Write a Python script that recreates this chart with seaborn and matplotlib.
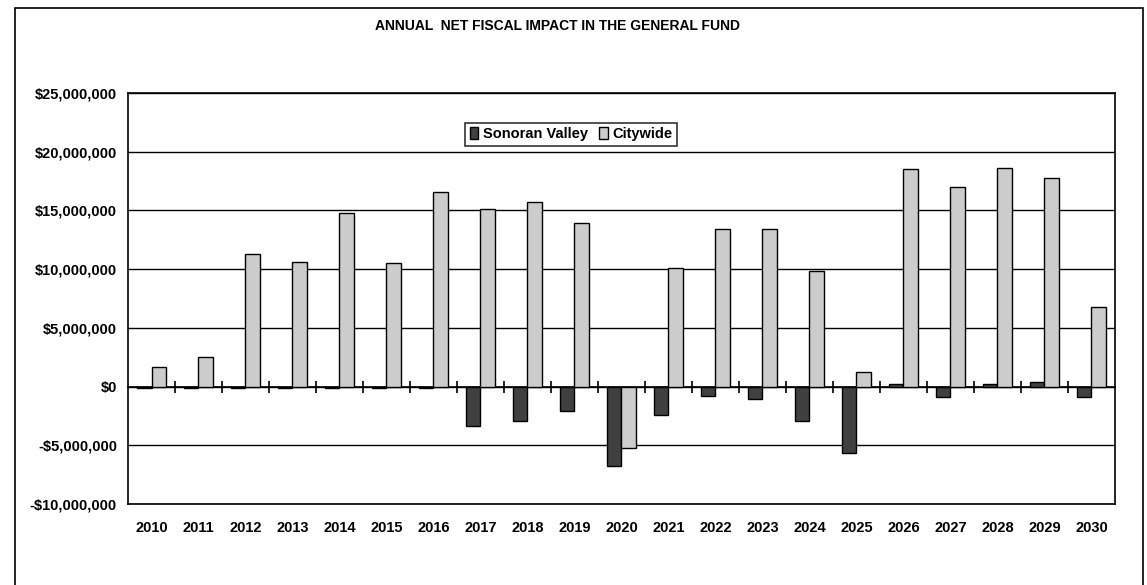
import matplotlib
matplotlib.use("Agg")
import matplotlib.pyplot as plt
import matplotlib.ticker as mticker
from matplotlib.patches import Rectangle
import seaborn as sns
import pandas as pd

years = [str(y) for y in range(2010, 2031)]
sonoran_valley = [-0.15e6, -0.15e6, -0.15e6, -0.15e6, -0.15e6, -0.15e6, -0.15e6,
                  -3.4e6, -2.9e6, -2.1e6, -6.8e6, -2.4e6, -0.8e6, -1.05e6, -2.9e6,
                  -5.7e6, 0.2e6, -0.9e6, 0.2e6, 0.35e6, -0.9e6]
citywide = [1.7e6, 2.5e6, 11.3e6, 10.6e6, 14.8e6, 10.5e6, 16.6e6, 15.1e6, 15.7e6,
            13.9e6, -5.2e6, 10.1e6, 13.4e6, 13.4e6, 9.8e6, 1.2e6, 18.5e6, 17.0e6,
            18.6e6, 17.8e6, 6.8e6]
series_names = ["Sonoran Valley", "Citywide"]
title = "ANNUAL  NET FISCAL IMPACT IN THE GENERAL FUND"

df = pd.DataFrame({
    "Year": years * 2,
    "Value": sonoran_valley + citywide,
    "Series": [series_names[0]] * len(years) + [series_names[1]] * len(years),
})

sns.set_theme(style="white")
plt.rcParams["font.family"] = ["Liberation Sans Narrow", "Liberation Sans", "DejaVu Sans"]

fig = plt.figure(figsize=(11.47, 5.85), dpi=100)
ax = fig.add_axes([0.1116, 0.1385, 0.8604, 0.7025])

sns.barplot(data=df, x="Year", y="Value", hue="Series", order=years,
            hue_order=series_names, palette=["#404040", "#cccccc"],
            width=0.63, edgecolor="black", linewidth=1.0, saturation=1,
            ax=ax, zorder=3)

ax.set_ylim(-10e6, 25e6)
ax.set_xlim(-0.5, len(years) - 0.5)
ax.yaxis.set_major_locator(mticker.MultipleLocator(5e6))
ax.yaxis.set_major_formatter(mticker.FuncFormatter(
    lambda v, p: ("-$" if v < 0 else "$") + f"{abs(v):,.0f}"))
ax.grid(axis="y", color="black", linewidth=1.0, zorder=0)
ax.set_axisbelow(True)
for s in ax.spines.values():
    s.set_color("black")
    s.set_linewidth(1.2)
ax.tick_params(axis="y", which="major", direction="out", length=5, width=1,
               color="black", labelsize=10.5, pad=3)
ax.tick_params(axis="x", which="major", length=0, labelsize=10.5, pad=12)
ax.set_xlabel("")
ax.set_ylabel("")
for t in ax.get_xticklabels() + ax.get_yticklabels():
    t.set_fontweight("bold")
    t.set_color("black")

# zero line with tick marks between categories
zero_frac = (0 - (-10e6)) / 35e6
sec = ax.secondary_xaxis(zero_frac)
sec.set_xticks([i + 0.5 for i in range(len(years) - 1)])
sec.set_xticklabels([])
sec.tick_params(direction="inout", length=9, width=1.2, color="black")
sec.spines["bottom"].set_linewidth(1.2)
sec.spines["bottom"].set_color("black")

leg = ax.legend(loc="upper center", bbox_to_anchor=(0.449, 0.945), ncol=2,
                frameon=True, fancybox=False, edgecolor="black",
                handlelength=0.6, handleheight=0.9, handletextpad=0.3,
                columnspacing=0.8, borderpad=0.3, fontsize=10.5)
leg.get_frame().set_linewidth(1.2)
for t in leg.get_texts():
    t.set_fontweight("bold")
    t.set_color("black")

fig.text(0.486, 0.955, title, ha="center", va="center", fontsize=10,
         fontweight="bold", color="black")

frame = Rectangle((15 / 1147, -0.05), (1143 - 15) / 1147, 1.05 - 8 / 585,
                  transform=fig.transFigure, fill=False, edgecolor="black",
                  linewidth=1.2, clip_on=False)
fig.patches.append(frame)

fig.savefig("out.png", dpi=100)
